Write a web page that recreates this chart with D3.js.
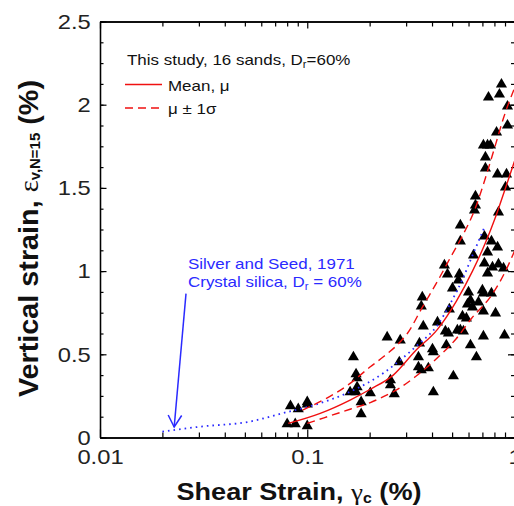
<!DOCTYPE html>
<html>
<head>
<meta charset="utf-8">
<script src="https://cdn.jsdelivr.net/npm/d3@7/dist/d3.min.js"></script>
<style>
body { margin: 0; background: #fff; }
text { font-family: "Liberation Sans", Arial, sans-serif; }
</style>
</head>
<body>
<script>
// test data, 16 sands (shear strain %, vertical strain %)
var shear = [0.083, 0.0905, 0.100, 0.100, 0.080, 0.0875, 0.100,
    0.167, 0.172, 0.174, 0.161, 0.172, 0.174, 0.2015, 0.182, 0.182,
    0.243, 0.281, 0.252, 0.252, 0.263, 0.278,
    0.348, 0.344, 0.344, 0.355, 0.384, 0.402, 0.406, 0.406, 0.359, 0.355, 0.363, 0.425,
    0.459, 0.475, 0.485, 0.464, 0.480, 0.469, 0.507, 0.530, 0.548, 0.567, 0.561, 0.586,
    0.502, 0.542, 0.536, 0.548, 0.548,
    0.613, 0.655, 0.708, 0.600, 0.613, 0.627, 0.593, 0.670, 0.700, 0.708, 0.774, 0.810,
    0.708, 0.895, 0.741, 0.716, 0.837, 0.885, 0.634, 0.741, 0.716, 0.774, 0.828, 0.783,
    0.648, 0.648, 0.641, 0.837, 0.828, 0.915, 0.905,
    0.865, 0.749, 0.846, 0.925, 0.925, 0.819, 0.708, 0.741, 0.766, 0.724, 0.724];
var vstrain = [0.189, 0.171, 0.213, 0.199, 0.081, 0.081, 0.069,
    0.483, 0.381, 0.357, 0.273, 0.273, 0.303, 0.267, 0.213, 0.141,
    0.603, 0.585, 0.345, 0.315, 0.261, 0.453,
    0.567, 0.483, 0.423, 0.405, 0.417, 0.531, 0.513, 0.273, 0.843, 0.789, 0.669, 0.693,
    1.035, 0.981, 0.771, 0.639, 0.627, 0.555, 0.369, 0.645, 0.645, 0.639, 0.729, 0.717,
    0.897, 0.981, 0.945, 1.276, 1.179,
    0.555, 0.483, 0.609, 0.873, 0.825, 0.783, 0.801, 0.813, 0.885, 0.867, 0.867, 0.747,
    0.759, 0.615, 0.987, 1.047, 1.041, 1.017, 1.095, 1.113, 1.209, 1.179, 1.143, 1.023,
    1.450, 1.396, 1.366, 1.354, 1.582, 1.582, 1.504,
    2.122, 2.044, 2.062, 1.990, 1.876, 1.834, 1.756, 1.756, 1.756, 1.684, 1.618];

// mean and mean +/- 1 sigma curves
var meanX = [0.081, 0.1155, 0.161, 0.2015, 0.26, 0.332, 0.425, 0.5245, 0.627, 0.724, 0.81, 0.905, 1.0];
var meanY = [0.085, 0.145, 0.225, 0.29, 0.375, 0.52, 0.65, 0.82, 1.0, 1.17, 1.325, 1.5, 1.66];
var upperX = [0.095, 0.161, 0.2015, 0.233, 0.281, 0.304, 0.36, 0.43, 0.49, 0.56, 0.648, 0.724, 0.81, 0.885, 1.0];
var upperY = [0.165, 0.325, 0.425, 0.485, 0.575, 0.625, 0.785, 0.95, 1.08, 1.21, 1.38, 1.56, 1.76, 1.92, 2.1];
var lowerX = [0.1, 0.161, 0.2015, 0.233, 0.281, 0.332, 0.43, 0.5245, 0.62, 0.78, 0.905, 1.0];
var lowerY = [0.085, 0.17, 0.21, 0.245, 0.3, 0.365, 0.485, 0.595, 0.715, 0.86, 1.0, 1.12];

// Silver and Seed 1971
var silverX = [0.02, 0.0304, 0.053, 0.0766, 0.1118, 0.161, 0.233, 0.281, 0.34, 0.425, 0.491, 0.567, 0.613, 0.72];
var silverY = [0.035, 0.065, 0.096, 0.147, 0.201, 0.275, 0.387, 0.465, 0.555, 0.675, 0.807, 0.963, 1.065, 1.27];

var yTicks = [0, 0.5, 1, 1.5, 2, 2.5];
var yTickLabels = ["0", "0.5", "1", "1.5", "2", "2.5"];
var xTicks = [0.01, 0.1, 1];
var xTickLabels = ["0.01", "0.1", "1"];

var stretch = 1.13;

var svg = d3.select("body").append("svg")
    .attr("width", 514)
    .attr("height", 506);

var x = d3.scaleLog().domain([0.01, 1]).range([100, 514.5]);
var y = d3.scaleLinear().domain([0, 2.5]).range([437.5, 21.5]);

var yMinor = d3.range(0, 2.5001, 0.125);
var xMinor = [];
[0.01, 0.1].forEach(function(d) {
    for (var k = 2; k <= 9; k++) xMinor.push(d * k);
});

function styleAxis(g) {
    g.select(".domain").attr("stroke", "#000").attr("stroke-width", 1.3);
    g.selectAll(".tick line").attr("stroke", "#000").attr("stroke-width", 1.2);
    g.selectAll(".tick text")
        .attr("fill", "#222")
        .style("font-size", "21px")
        .style("font-family", "'Liberation Sans', Arial, sans-serif")
        .attr("transform", "scale(" + stretch + ",1)");
}

// left
svg.append("g").attr("transform", "translate(100,0)")
    .call(d3.axisLeft(y).tickValues(yMinor).tickSize(-3.5).tickSizeOuter(0).tickFormat(""))
    .call(styleAxis);
svg.append("g").attr("transform", "translate(100,0)")
    .call(d3.axisLeft(y).tickValues(yTicks).tickSize(-6.5).tickSizeOuter(0).tickPadding(8.2)
        .tickFormat(function(d, i) { return yTickLabels[i]; }))
    .call(styleAxis);
// right
svg.append("g").attr("transform", "translate(514.5,0)")
    .call(d3.axisRight(y).tickValues(yMinor).tickSize(-3.5).tickSizeOuter(0).tickFormat(""))
    .call(styleAxis);
svg.append("g").attr("transform", "translate(514.5,0)")
    .call(d3.axisRight(y).tickValues(yTicks).tickSize(-6.5).tickSizeOuter(0).tickFormat(""))
    .call(styleAxis);
// bottom
svg.append("g").attr("transform", "translate(0,437.5)")
    .call(d3.axisBottom(x).tickValues(xMinor).tickSize(-5).tickSizeOuter(0).tickFormat(""))
    .call(styleAxis);
svg.append("g").attr("transform", "translate(0,437.5)")
    .call(d3.axisBottom(x).tickValues(xTicks).tickSize(-8).tickSizeOuter(0).tickPadding(11.5)
        .tickFormat(function(d, i) { return xTickLabels[i]; }))
    .call(styleAxis);
// top
svg.append("g").attr("transform", "translate(0,21.5)")
    .call(d3.axisTop(x).tickValues(xMinor).tickSize(-5).tickSizeOuter(0).tickFormat(""))
    .call(styleAxis);
svg.append("g").attr("transform", "translate(0,21.5)")
    .call(d3.axisTop(x).tickValues(xTicks).tickSize(-7).tickSizeOuter(0).tickFormat(""))
    .call(styleAxis);

// data triangles
svg.append("g").selectAll("path")
    .data(d3.range(shear.length))
    .enter()
    .append("path")
    .attr("transform", function(i) { return "translate(" + x(shear[i]) + "," + y(vstrain[i]) + ")"; })
    .attr("d", d3.symbol(d3.symbolTriangle, 54))
    .attr("fill", "#000");

function curve(xs, ys) {
    return d3.line()
        .x(function(d, i) { return x(xs[i]); })
        .y(function(d, i) { return y(ys[i]); })
        .curve(d3.curveMonotoneX)(xs);
}

svg.append("path")
    .attr("d", curve(silverX, silverY))
    .attr("fill", "none")
    .attr("stroke", "#2a2aff")
    .attr("stroke-width", 1.8)
    .attr("stroke-dasharray", "1.6,4");

svg.append("path")
    .attr("d", curve(meanX, meanY))
    .attr("fill", "none")
    .attr("stroke", "#f01010")
    .attr("stroke-width", 1.4);
[[upperX, upperY], [lowerX, lowerY]].forEach(function(c) {
    svg.append("path")
        .attr("d", curve(c[0], c[1]))
        .attr("fill", "none")
        .attr("stroke", "#f01010")
        .attr("stroke-width", 1.4)
        .attr("stroke-dasharray", "8,5");
});

// legend
function label(px, py, size, color) {
    return svg.append("text")
        .attr("transform", "translate(" + px + "," + py + ") scale(" + stretch + ",1)")
        .attr("fill", color)
        .style("font-size", size + "px");
}
var t1 = label(127, 65, 15, "#111");
t1.append("tspan").text("This study, 16 sands, D");
t1.append("tspan").attr("dy", 3).style("font-size", "10px").text("r");
t1.append("tspan").attr("dy", -3).text("=60%");

svg.append("line").attr("x1", 125).attr("x2", 162).attr("y1", 84.5).attr("y2", 84.5)
    .attr("stroke", "#f01010").attr("stroke-width", 1.4);
label(168, 90.5, 15, "#111").text("Mean, \u03bc");
svg.append("line").attr("x1", 125).attr("x2", 162).attr("y1", 108).attr("y2", 108)
    .attr("stroke", "#f01010").attr("stroke-width", 1.4).attr("stroke-dasharray", "8,5");
label(168, 113.5, 15, "#111").text("\u03bc \u00b1 1\u03c3");

// Silver and Seed annotation
label(188, 268.5, 15, "#2a2aff").text("Silver and Seed, 1971");
var t2 = label(188, 287, 15, "#2a2aff");
t2.append("tspan").text("Crystal silica, D");
t2.append("tspan").attr("dy", 3).style("font-size", "10px").text("r");
t2.append("tspan").attr("dy", -3).text(" = 60%");

var ax0 = x(0.026), ay0 = y(0.865), ax1 = x(0.0228), ay1 = y(0.063);
svg.append("line").attr("x1", ax0).attr("y1", ay0).attr("x2", ax1).attr("y2", ay1)
    .attr("stroke", "#2a2aff").attr("stroke-width", 1.5);
svg.append("path")
    .attr("d", "M" + (ax1 - 6) + "," + (ay1 - 12) + "L" + ax1 + "," + ay1 + "L" + (ax1 + 7.5) + "," + (ay1 - 11.5))
    .attr("fill", "none").attr("stroke", "#2a2aff").attr("stroke-width", 1.5);

// axis titles
var xt = svg.append("text")
    .attr("x", 299).attr("y", 500)
    .attr("text-anchor", "middle")
    .attr("textLength", 245).attr("lengthAdjust", "spacingAndGlyphs")
    .style("font-size", "24px").style("font-weight", "bold").attr("fill", "#111");
xt.append("tspan").text("Shear Strain, ");
xt.append("tspan").style("font-weight", "normal").style("font-family", "'Liberation Serif', serif").text("\u03b3");
xt.append("tspan").attr("dy", 3).style("font-size", "14px").text("c");
xt.append("tspan").attr("dy", -3).text(" (%)");

var yt = svg.append("text")
    .attr("transform", "translate(38,238.5) scale(" + stretch + ",1) rotate(-90)")
    .attr("text-anchor", "middle")
    .attr("textLength", 317).attr("lengthAdjust", "spacingAndGlyphs")
    .style("font-size", "25px").style("font-weight", "bold").attr("fill", "#111");
yt.append("tspan").text("Vertical strain, ");
yt.append("tspan").style("font-weight", "normal").style("font-family", "'Liberation Serif', serif").text("\u03b5");
yt.append("tspan").attr("dy", 2).style("font-size", "13px").text("v,N=15");
yt.append("tspan").attr("dy", -2).text(" (%)");
</script>
</body>
</html>
